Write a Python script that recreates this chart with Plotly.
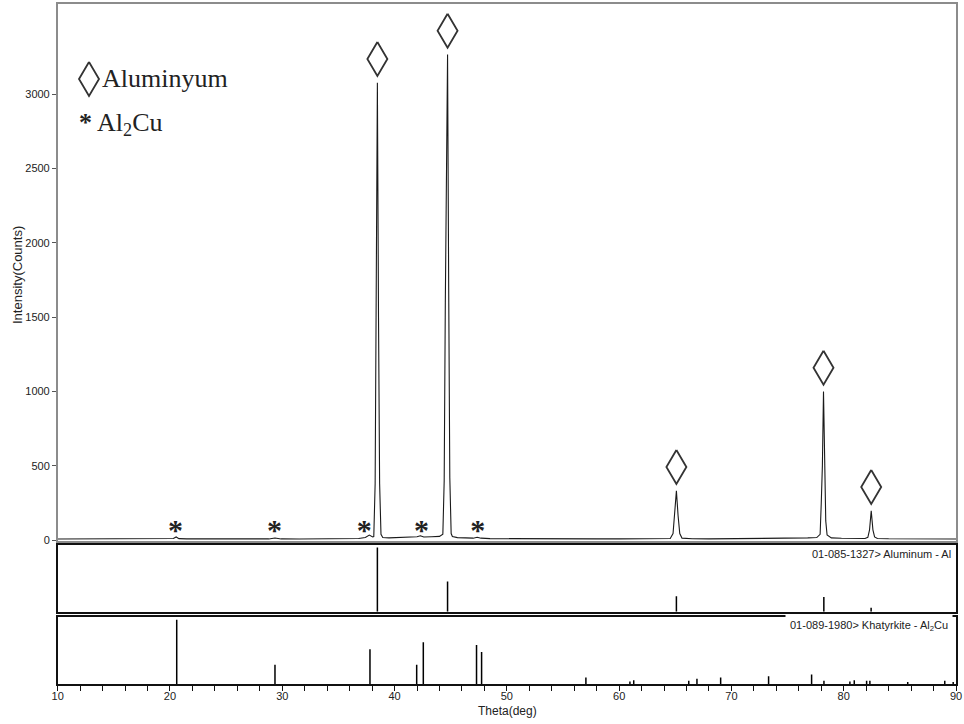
import plotly.graph_objects as go

# ---- measured XRD scan (2-theta in degrees, intensity in counts) ----
two_theta = [
    10.0, 12.0, 14.0, 16.0, 18.0, 19.8, 20.3, 20.55, 20.8, 21.5, 23.0, 25.0, 27.0,
    28.8, 29.35, 29.9, 31.5, 33.5, 35.5, 36.8, 37.4, 37.75, 38.05, 38.15, 38.27,
    38.37, 38.47, 38.57, 38.67, 38.79, 38.95, 39.5, 40.5, 41.5, 42.0, 42.3, 42.6,
    43.3, 44.0, 44.3, 44.42, 44.52, 44.62, 44.72, 44.82, 44.92, 45.04, 45.15, 45.6,
    46.3, 47.0, 47.35, 47.7, 48.5, 50.0, 52.0, 54.0, 56.0, 58.0, 60.0, 62.0, 63.5,
    64.55, 64.8, 64.95, 65.1, 65.25, 65.4, 65.6, 66.5, 68.0, 70.0, 72.0, 74.0, 75.5,
    76.8, 77.6, 77.9, 78.0, 78.1, 78.2, 78.3, 78.4, 78.52, 78.7, 78.9, 79.8, 81.0,
    81.9, 82.15, 82.3, 82.45, 82.6, 82.75, 83.0, 84.0, 86.0, 88.0, 90.0,
]
counts = [
    8, 9, 8, 9, 8, 9, 12, 22, 11, 9, 8, 9, 8,
    9, 15, 9, 8, 9, 10, 12, 18, 35, 22, 25, 380,
    1500, 3075, 1500, 380, 40, 18, 16, 18, 20, 24, 30, 22,
    24, 26, 40, 400, 1600, 2300, 3265, 1700, 420, 45, 25, 18,
    14, 14, 20, 14, 11, 10, 9, 9, 9, 9, 9, 9, 10,
    12, 45, 165, 332, 165, 45, 14, 10, 9, 10, 10, 11, 13,
    16, 18, 40, 250, 500, 1000, 500, 130, 35, 28, 16, 13, 12,
    12, 20, 70, 198, 70, 22, 12, 10, 9, 9, 8,
]

# ---- indexed phases on the measured scan ----
al_peak_theta = [38.47, 44.72, 65.10, 78.20, 82.45]
al_peak_counts = [3075, 3265, 332, 1000, 198]
al2cu_peak_theta = [20.5, 29.3, 37.3, 42.4, 47.4]

# ---- reference cards (relative intensity, %) ----
al_ref_theta = [38.47, 44.72, 65.10, 78.23, 82.44]
al_ref_rel = [100, 47, 24, 23, 6]

al2cu_ref_theta = [20.60, 29.35, 37.81, 41.97, 42.56, 47.30, 47.75, 57.04, 60.96,
                   61.30, 66.20, 66.93, 69.04, 73.31, 77.14, 78.24, 80.55, 80.94,
                   82.04, 82.33, 85.70, 89.00, 89.75]
al2cu_ref_rel = [100, 30, 54, 30, 65, 61, 50, 10, 4,
                 6, 5, 8, 10, 12, 15, 5, 4, 6,
                 5, 5, 3, 5, 3]

x_ticks = list(range(10, 91, 2))
x_tick_text = [str(v) if v % 10 == 0 else "" for v in x_ticks]
y_ticks = [0, 500, 1000, 1500, 2000, 2500, 3000]

# ---- figure geometry ----
W, H = 964, 724
X0, X1 = 57.7, 956.0
Y_RANGE = [-5, 3605]
px_per_deg = (X1 - X0) / 80.0
px_per_count = (541 - 4) / (Y_RANGE[1] - Y_RANGE[0])

# diamond outline size (pixels) and its gap above a peak apex (counts)
D_HALF_W, D_HALF_H = 10.0, 17.0
D_GAP = 160


def diamonds(xc_list, yc_list):
    hw = D_HALF_W / px_per_deg
    hh = D_HALF_H / px_per_count
    xs, ys = [], []
    for xc, yc in zip(xc_list, yc_list):
        xs += [xc, xc + hw, xc, xc - hw, xc, None]
        ys += [yc + hh, yc, yc - hh, yc, yc + hh, None]
    return xs, ys


def sticks(theta, rel):
    xs, ys = [], []
    for t, r in zip(theta, rel):
        xs += [t, t, None]
        ys += [0, r, None]
    return xs, ys


fig = go.Figure()

fig.add_trace(go.Scatter(
    x=two_theta, y=counts, mode="lines",
    line=dict(color="#1a1a1a", width=1.1),
    xaxis="x", yaxis="y", showlegend=False, hoverinfo="skip",
))

# diamonds over the aluminium reflections, plus the key symbol
d_x = al_peak_theta + [10 + (89 - X0) / px_per_deg]
d_y = [c + D_GAP for c in al_peak_counts] + [Y_RANGE[0] + (541 - 79) / px_per_count]
dx, dy = diamonds(d_x, d_y)
fig.add_trace(go.Scatter(
    x=dx, y=dy, mode="lines", line=dict(color="#333333", width=1.8),
    xaxis="x", yaxis="y", showlegend=False, hoverinfo="skip",
))

# asterisks over the Al2Cu reflections
fig.add_trace(go.Scatter(
    x=al2cu_peak_theta, y=[55] * len(al2cu_peak_theta), mode="text",
    text=["<b>*</b>"] * len(al2cu_peak_theta),
    textfont=dict(family="Liberation Serif", size=30, color="#222222"),
    xaxis="x", yaxis="y", showlegend=False, hoverinfo="skip",
))

sx, sy = sticks(al_ref_theta, al_ref_rel)
fig.add_trace(go.Scatter(
    x=sx, y=sy, mode="lines", line=dict(color="#000000", width=1.5),
    xaxis="x2", yaxis="y2", showlegend=False, hoverinfo="skip",
))
sx, sy = sticks(al2cu_ref_theta, al2cu_ref_rel)
fig.add_trace(go.Scatter(
    x=sx, y=sy, mode="lines", line=dict(color="#000000", width=1.5),
    xaxis="x3", yaxis="y3", showlegend=False, hoverinfo="skip",
))

xdom = [X0 / W, X1 / W]
main_dom = [(H - 541) / H, (H - 4) / H]
p2_dom = [(H - 611.7) / H, (H - 545) / H]
p3_dom = [(H - 684) / H, (H - 617.3) / H]

tick_font = dict(family="Liberation Sans, Arial", size=11, color="#222222")
frame_grey = "#8c8c8c"

common = dict(showgrid=False, zeroline=False, automargin=False, showline=True,
              linewidth=1.5, mirror=True)

fig.update_layout(
    width=W, height=H,
    margin=dict(l=0, r=0, t=0, b=0, autoexpand=False),
    paper_bgcolor="white", plot_bgcolor="white",
    showlegend=False,
    xaxis=dict(domain=xdom, range=[10, 90], anchor="y", linecolor=frame_grey,
               ticks="", showticklabels=False, **common),
    yaxis=dict(domain=main_dom, range=Y_RANGE, anchor="x", linecolor=frame_grey,
               ticks="outside", ticklen=4, tickcolor="#555555", tickwidth=1,
               tickvals=y_ticks, tickfont=tick_font, **common),
    xaxis2=dict(domain=xdom, range=[10, 90], anchor="y2", linecolor="#111111",
                ticks="", showticklabels=False, **common),
    yaxis2=dict(domain=p2_dom, range=[0, 104], anchor="x2", linecolor="#111111",
                ticks="", showticklabels=False, **common),
    xaxis3=dict(domain=xdom, range=[10, 90], anchor="y3", linecolor="#111111",
                ticks="outside", ticklen=5, tickcolor="#111111", tickwidth=1.2,
                tickvals=x_ticks, ticktext=x_tick_text, tickfont=tick_font,
                tickangle=0, ticklabelstandoff=-4, **common),
    yaxis3=dict(domain=p3_dom, range=[0, 104], anchor="x3", linecolor="#111111",
                ticks="", showticklabels=False, **common),
    annotations=[
        dict(text="Intensity(Counts)", x=18 / W, y=(H - 275) / H, xref="paper", yref="paper",
             textangle=-90, showarrow=False, xanchor="center", yanchor="middle",
             font=dict(family="Liberation Sans, Arial", size=13, color="#222222")),
        dict(text="Theta(deg)", x=507 / W, y=(H - 711) / H, xref="paper", yref="paper",
             showarrow=False, xanchor="center", yanchor="middle",
             font=dict(family="Liberation Sans, Arial", size=12, color="#222222")),
        dict(text="Aluminyum", x=100 / W, y=(H - 78) / H, xref="paper", yref="paper",
             showarrow=False, xanchor="left", yanchor="middle",
             font=dict(family="Liberation Serif", size=26, color="#222222")),
        dict(text="<b>*</b> Al<sub>2</sub>Cu", x=77 / W, y=(H - 124) / H, xref="paper",
             yref="paper", showarrow=False, xanchor="left", yanchor="middle",
             font=dict(family="Liberation Serif", size=26, color="#222222")),
        dict(text="01-085-1327> Aluminum - Al", x=953 / W, y=(H - 554) / H, xref="paper",
             yref="paper", showarrow=False, xanchor="right", yanchor="middle",
             font=dict(family="Liberation Sans, Arial", size=11, color="#222222")),
        dict(text="01-089-1980> Khatyrkite - Al<sub>2</sub>Cu", x=953 / W, y=(H - 626) / H,
             xref="paper", yref="paper", showarrow=False, xanchor="right", yanchor="middle",
             bgcolor="white", borderpad=4,
             font=dict(family="Liberation Sans, Arial", size=11, color="#222222")),
    ],
)

fig.write_html("out.html")
